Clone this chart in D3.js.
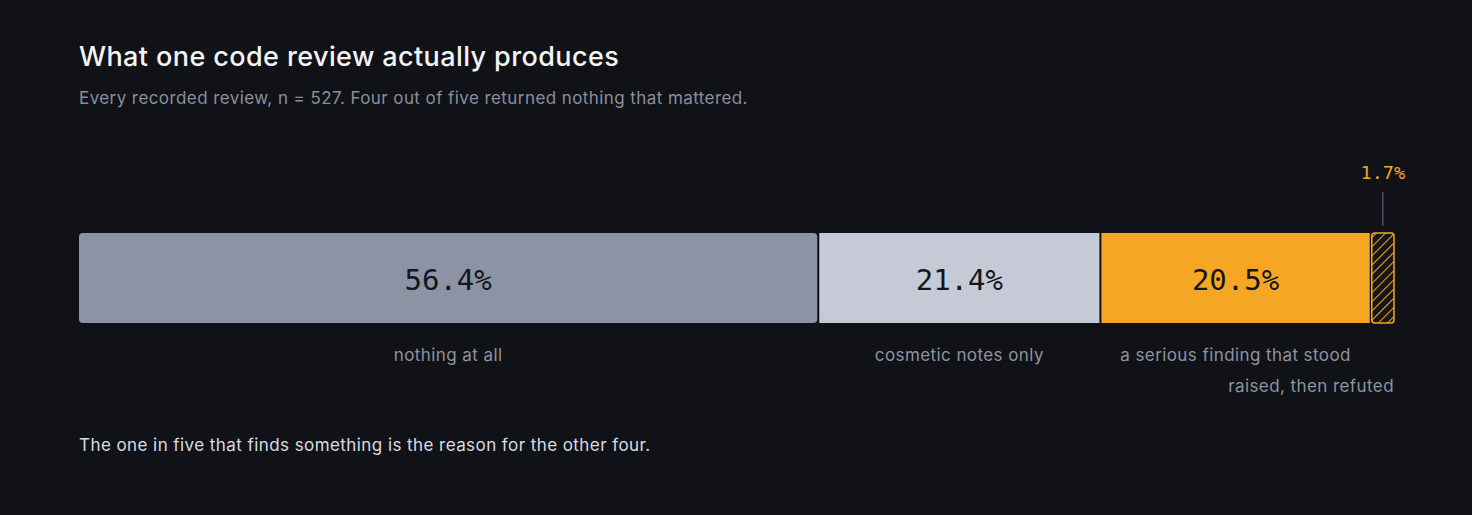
<!DOCTYPE html>
<html>
<head>
<meta charset="utf-8">
<script src="https://cdn.jsdelivr.net/npm/d3@7"></script>
<style>
  html, body { margin: 0; padding: 0; background: #111217; }
  svg { display: block; }
</style>
</head>
<body>
<div id="chart-area"></div>
<script>
var categories = ["nothing at all", "cosmetic notes only", "a serious finding that stood", "raised, then refuted"];
var values = [56.4, 21.4, 20.5, 1.7];
var valueLabels = ["56.4%", "21.4%", "20.5%", "1.7%"];
var colours = ["#8b93a5", "#c5cad6", "#f5a623", "url(#hatch)"];

var width = 1472, height = 515;
var sans = "Inter, 'Noto Sans', sans-serif";
var mono = "'DejaVu Sans Mono', 'Liberation Mono', monospace";

var svg = d3.select("#chart-area")
    .append("svg")
    .attr("width", width)
    .attr("height", height);

svg.append("rect").attr("width", width).attr("height", height).attr("fill", "#111217");

var defs = svg.append("defs");
var pat = defs.append("pattern")
    .attr("id", "hatch")
    .attr("patternUnits", "userSpaceOnUse")
    .attr("width", 6.5)
    .attr("height", 6.5)
    .attr("patternTransform", "rotate(45)");
pat.append("rect").attr("width", 6.5).attr("height", 6.5).attr("fill", "#16161a");
pat.append("line")
    .attr("x1", 0).attr("y1", 0).attr("x2", 0).attr("y2", 6.5)
    .attr("stroke", "#f5a623").attr("stroke-width", 2);

// titles
svg.append("text")
    .attr("x", 79).attr("y", 66)
    .attr("fill", "#f3f4f6")
    .style("font-family", sans)
    .style("font-size", "27px")
    .style("font-weight", 500)
    .style("letter-spacing", "0.4px")
    .text("What one code review actually produces");

svg.append("text")
    .attr("x", 79).attr("y", 104)
    .attr("fill", "#8a8f9b")
    .style("font-family", sans)
    .style("font-size", "17px")
    .style("letter-spacing", "0.42px")
    .text("Every recorded review, n = 527. Four out of five returned nothing that mattered.");

svg.append("text")
    .attr("x", 79).attr("y", 451)
    .attr("fill", "#d9dbe1")
    .style("font-family", sans)
    .style("font-size", "17px")
    .style("letter-spacing", "0.43px")
    .text("The one in five that finds something is the reason for the other four.");

// scale: segment widths share the bar length left over after the gaps
var barX0 = 79, barX1 = 1394, gap = 2;
var barY = 233, barH = 90;
var w = d3.scaleLinear()
    .domain([0, d3.sum(values)])
    .range([0, barX1 - barX0 - gap * (values.length - 1)]);
var starts = [0].concat(Array.from(d3.cumsum(values)).slice(0, -1));
var data = values.map((v, i) => ({
    v: v, start: starts[i], cat: categories[i], label: valueLabels[i], colour: colours[i], i: i,
    x0: barX0 + w(starts[i]) + i * gap,
    x1: barX0 + w(starts[i] + v) + i * gap
}));

var seg = svg.selectAll("g.seg").data(data).enter().append("g").attr("class", "seg");

seg.append("rect")
    .attr("x", (d) => d.x0)
    .attr("y", barY)
    .attr("width", (d) => d.x1 - d.x0)
    .attr("height", barH)
    .attr("rx", (d) => (d.i == 0 ? 4 : d.i == 3 ? 3 : 0))
    .attr("fill", (d) => d.colour)
    .attr("stroke", (d) => (d.i == 3 ? "#f5a623" : "none"))
    .attr("stroke-width", 1.5);

// value labels inside big segments
seg.filter((d) => d.i < 3)
    .append("text")
    .attr("x", (d) => (d.x0 + d.x1) / 2)
    .attr("y", barY + barH / 2 + 12)
    .attr("text-anchor", "middle")
    .attr("fill", "#15161c")
    .style("font-family", mono)
    .style("font-size", "29px")
    .style("font-weight", 500)
    .text((d) => d.label);

// category labels
seg.append("text")
    .attr("x", (d) => (d.i == 3 ? d.x1 : (d.x0 + d.x1) / 2))
    .attr("y", (d) => (d.i == 3 ? 392 : 361))
    .attr("text-anchor", (d) => (d.i == 3 ? "end" : "middle"))
    .attr("fill", "#8e939e")
    .style("font-family", sans)
    .style("font-size", "17px")
    .style("letter-spacing", "0.42px")
    .text((d) => d.cat);

// callout for the tiny segment
var small = data[3];
var cx = (small.x0 + small.x1) / 2;
svg.append("line")
    .attr("x1", cx).attr("x2", cx)
    .attr("y1", 192).attr("y2", 226)
    .attr("stroke", "#6b707c")
    .attr("stroke-width", 1);
svg.append("text")
    .attr("x", cx)
    .attr("y", 179)
    .attr("text-anchor", "middle")
    .attr("fill", "#f5a623")
    .style("font-family", mono)
    .style("font-size", "18.5px")
    .text(small.label);
</script>
</body>
</html>
